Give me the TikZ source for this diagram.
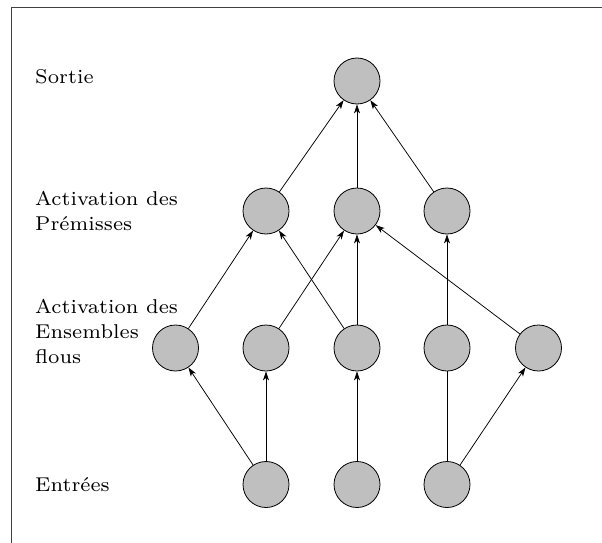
\documentclass[tikz,border=0pt]{standalone}
\usepackage{fontspec}
\setmainfont{lmroman7-regular.otf}
\usetikzlibrary{arrows.meta}
\tikzset{
  neuron/.style={circle,draw=black,line width=0.8pt,fill=black!25,minimum size=46pt,inner sep=0pt},
  arr/.style={line width=0.75pt,-{Stealth[length=9pt,width=6pt,inset=2.5pt]}},
  plain/.style={line width=0.75pt},
  lbl/.style={anchor=base west,align=left,inner sep=0pt,font=\fontsize{20}{25}\selectfont},
  frame/.style={line width=0.9pt,draw=black!75}
}
\begin{document}
\begin{tikzpicture}[x=1pt,y=-1pt]
\useasboundingbox (0,0) rectangle (602,543);
\draw[frame] (11,543) -- (11,7) -- (602,7);
% nodes
\node[neuron] (O) at (357,81) {};
\node[neuron] (P1) at (266,211) {};
\node[neuron] (P2) at (357,211) {};
\node[neuron] (P3) at (447,211) {};
\node[neuron] (F1) at (175.5,348) {};
\node[neuron] (F2) at (266,348) {};
\node[neuron] (F3) at (357,348) {};
\node[neuron] (F4) at (447,348) {};
\node[neuron] (F5) at (538.5,348) {};
\node[neuron] (I1) at (266,484.5) {};
\node[neuron] (I2) at (357,484.5) {};
\node[neuron] (I3) at (447,484.5) {};
% labels (anchored at the baseline of the last line)
\node[lbl] (L1) at (35,83) {Sortie};
\node[lbl] (L2) at (35,230) {Activation des\\Prémisses};
\node[lbl] (L3) at (35,363) {Activation des\\Ensembles\\flous};
\node[lbl] (L4) at (35,491) {Entrées};
% connectors
\draw[arr] (P1) -- (O);
\draw[arr] (P2) -- (O);
\draw[arr] (P3) -- (O);
\draw[arr] (F1) -- (P1);
\draw[arr] (F3) -- (P1);
\draw[arr] (F2) -- (P2);
\draw[arr] (F3) -- (P2);
\draw[arr] (F5) -- (P2);
\draw[arr] (F4) -- (P3);
\draw[arr] (I1) -- (F1);
\draw[arr] (I1) -- (F2);
\draw[arr] (I2) -- (F3);
\draw[plain] (I3) -- (F4);
\draw[arr] (I3) -- (F5);
\end{tikzpicture}
\end{document}
